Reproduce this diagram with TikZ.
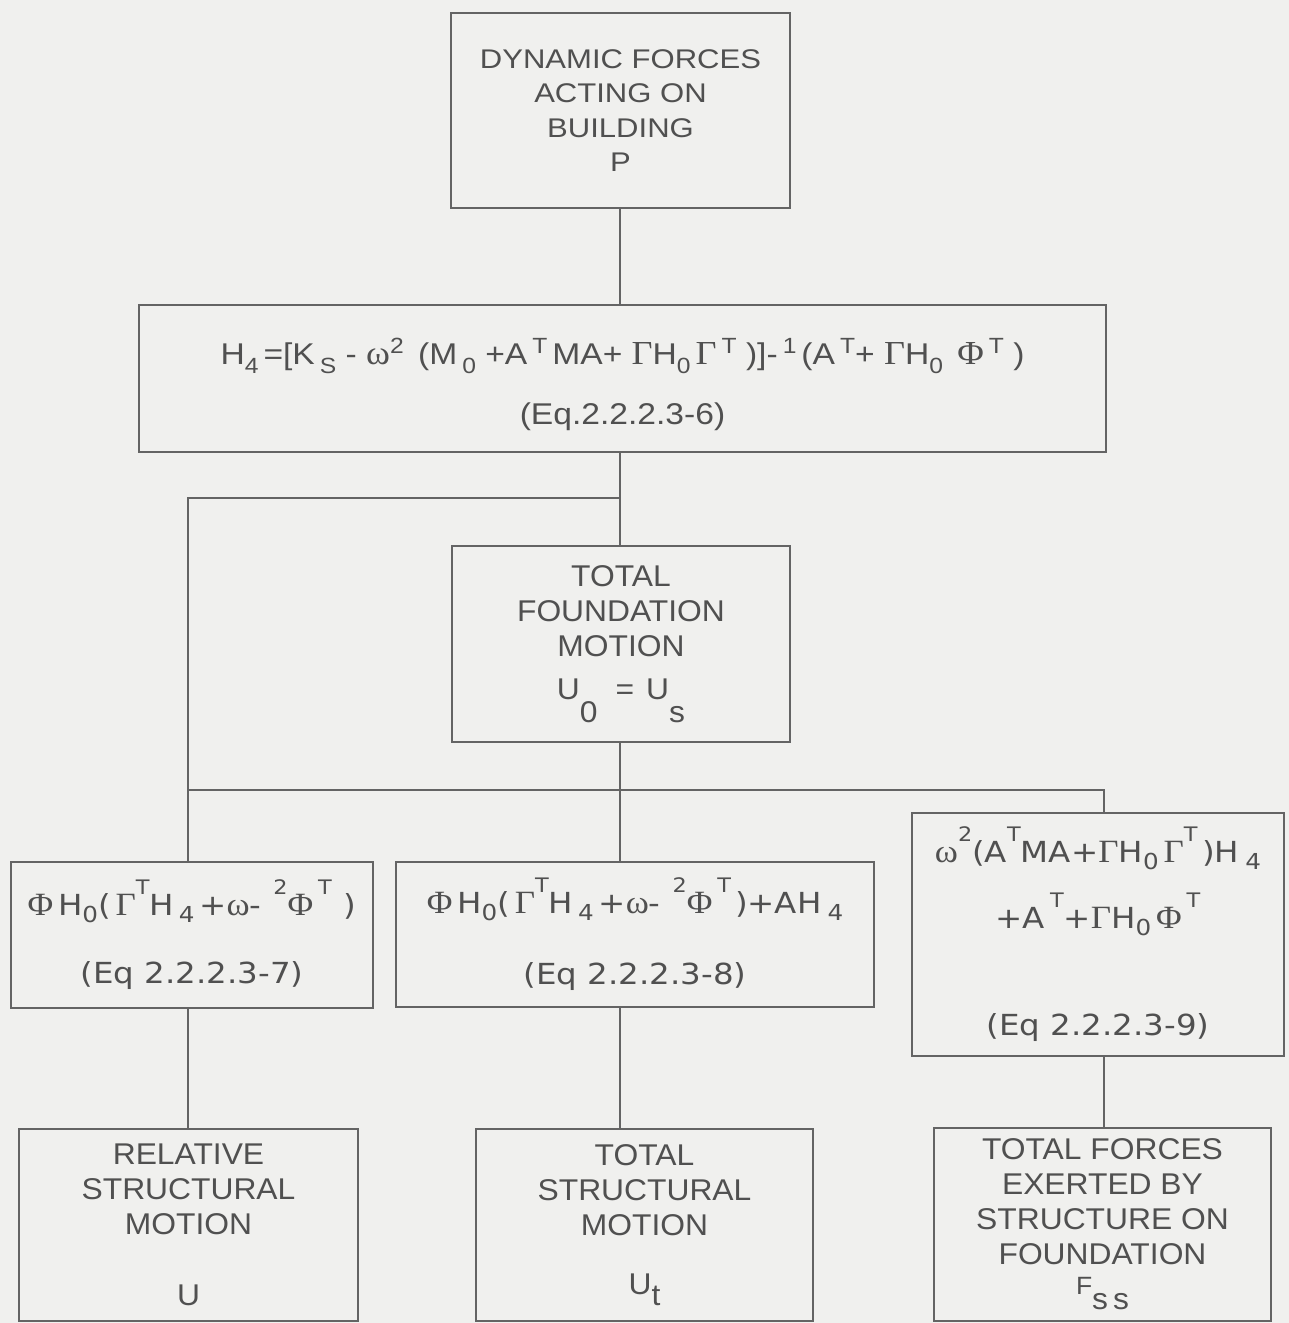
\documentclass[tikz,border=0pt]{standalone}
\usepackage{fontspec}
\setmainfont{Liberation Sans}
\newfontfamily\hv{Liberation Sans}[FakeStretch=1.06]
\newfontfamily\hvw{Liberation Sans}[FakeStretch=1.15]
\newfontfamily\hvf{Liberation Sans}[FakeStretch=1.12]
\newfontfamily\vs{DejaVu Sans}[FakeStretch=1.12]
\newfontfamily\grk{Liberation Serif}[Scale=1.12,FakeStretch=1.08]
\definecolor{bgc}{RGB}{240,240,238}
\definecolor{linec}{RGB}{100,100,100}
\definecolor{textc}{RGB}{80,80,80}
% Greek letters of the formulas
\newcommand\Gam{{\grk Γ}}
\newcommand\Ph{{\grk Φ}}
\newcommand\om{{\grk ω}}
% raised and lowered indices, sans formula
\newcommand\spa[1]{\raisebox{11pt}{\fontsize{22}{22}\selectfont #1}}
\newcommand\sba[1]{\raisebox{-9pt}{\fontsize{22}{22}\selectfont #1}}
% raised and lowered indices, wide formulas
\newcommand\spb[1]{\raisebox{21pt}{\fontsize{20}{20}\selectfont #1}}
\newcommand\sbb[1]{\raisebox{-7pt}{\fontsize{22}{22}\selectfont #1}}
\begin{document}
\begin{tikzpicture}[x=1pt,y=-1pt,
  box/.style={draw=linec,line width=2.5pt,inner sep=0pt,align=center,text=textc},
  wire/.style={draw=linec,line width=2.3pt}]
\fill[bgc] (0,0) rectangle (1289,1323);
\useasboundingbox (0,0) rectangle (1289,1323);

% boxes
\node[box,minimum width=339pt,minimum height=195pt,
      font={\hvw\fontsize{27}{34.5}\selectfont}] (top) at (620.5,110.5)
  {DYNAMIC FORCES\\ACTING ON\\BUILDING\\P};
\node[box,minimum width=967pt,minimum height=147pt,
      font={\hvf\fontsize{30}{36}\selectfont}] (eq6) at (622.5,378.5)
  {\rule{0pt}{38pt}H\sba{4}\,=[K\,\sba{S} - \om\spa{2}\, (M\,\sba{0} +A\,\spa{T}\,MA+ \Gam H\sba{0}\,\Gam\,\spa{T} )]-\,\spa{1}\,(A\,\spa{T}+ \Gam H\sba{0}\, \Ph\,\spa{T} )\\[24pt]
   (Eq.2.2.2.3-6)};
\node[box,minimum width=338pt,minimum height=196pt,
      font={\hv\fontsize{30}{35}\selectfont}] (found) at (621,644)
  {TOTAL\\FOUNDATION\\MOTION\\[8pt]
   U\raisebox{-23pt}{0}\hspace{18pt}=\hspace{12pt}U\raisebox{-23pt}{s}};
\node[box,minimum width=362pt,minimum height=146pt,
      font={\vs\fontsize{29}{35}\selectfont}] (eq7) at (192,935)
  {\Ph\,H\sbb{0}(\,\Gam\spb{T}H\,\sbb{4}\,+\om-\hspace{12pt}\spb{2}\Ph\,\spb{T}\hspace{12pt})\\[33pt]
   (Eq 2.2.2.3-7)};
\node[box,minimum width=478pt,minimum height=145pt,
      font={\vs\fontsize{29}{35}\selectfont}] (eq8) at (635,934.5)
  {\Ph\,H\sbb{0}(\,\Gam\spb{T}H\,\sbb{4}\,+\om-\hspace{12pt}\spb{2}\Ph\,\spb{T}\hspace{4pt})+AH\hspace{6pt}\sbb{4}\\[36pt]
   (Eq 2.2.2.3-8)};
\node[box,minimum width=372pt,minimum height=243pt,
      font={\vs\fontsize{29}{35}\selectfont}] (eq9) at (1098,934.5)
  {\om\spb{2}(A\spb{T}MA+\Gam H\sbb{0}\,\Gam\spb{T}\,)H\hspace{6pt}\sbb{4}\\[22pt]
   +A\hspace{5pt}\spb{T}+\Gam H\sbb{0}\,\Ph\,\spb{T}\\[72pt]
   (Eq 2.2.2.3-9)};
\node[box,minimum width=339pt,minimum height=192pt,
      font={\hv\fontsize{30}{35}\selectfont}] (rel) at (188.5,1225)
  {RELATIVE\\STRUCTURAL\\MOTION\\[36pt]U};
\node[box,minimum width=337pt,minimum height=192pt,
      font={\hv\fontsize{30}{35}\selectfont}] (tot) at (644.5,1225)
  {TOTAL\\STRUCTURAL\\MOTION\\[24pt]U\raisebox{-11pt}{t}};
\node[box,minimum width=337pt,minimum height=193pt,
      font={\hv\fontsize{30}{35}\selectfont}] (frc) at (1102.5,1224.5)
  {TOTAL FORCES\\EXERTED BY\\STRUCTURE ON\\FOUNDATION\\[-5pt]
   {\fontsize{25}{25}\selectfont F}\raisebox{-15pt}{s\,s}};

% junctions of the connectors
\coordinate (jA) at (620,498);
\coordinate (jL) at (188,498);
\coordinate (jM) at (620,790);
\coordinate (jLL) at (188,790);
\coordinate (jR) at (1104,790);

% connectors
\draw[wire] (top.south -| jA) -- (eq6.north -| jA);
\draw[wire] (eq6.south -| jA) -- (found.north -| jA);
\draw[wire] (jA) -- (jL) -- (eq7.north -| jL);
\draw[wire] (found.south -| jM) -- (jM) -- (eq8.north -| jM);
\draw[wire] (jLL) -- (jR) -- (eq9.north -| jR);
\draw[wire] (eq7.south -| jL) -- (rel.north -| jL);
\draw[wire] (eq8.south -| jM) -- (tot.north -| jM);
\draw[wire] (eq9.south -| jR) -- (frc.north -| jR);
\end{tikzpicture}
\end{document}
